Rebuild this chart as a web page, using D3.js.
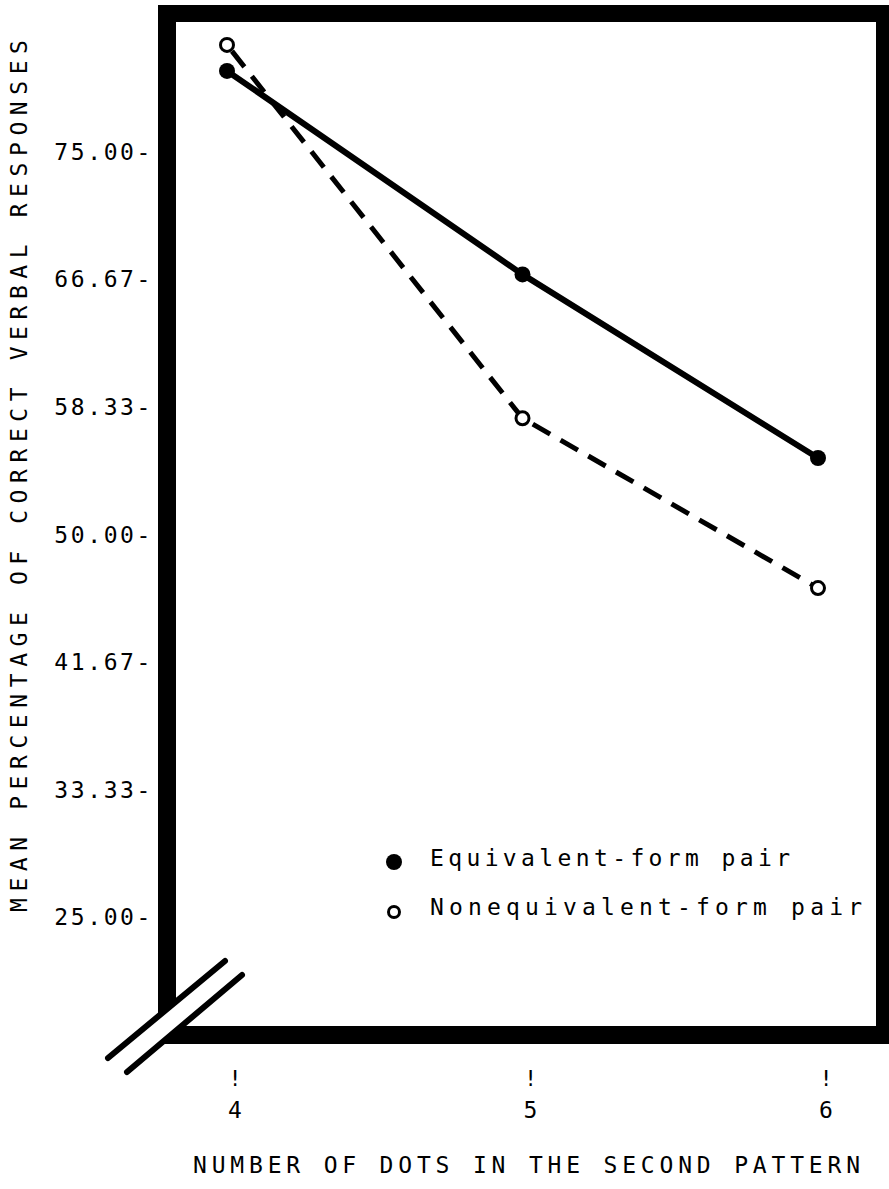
<!DOCTYPE html>
<html>
<head>
<meta charset="utf-8">
<script src="https://cdn.jsdelivr.net/npm/d3@7"></script>
<style>
  html, body { margin: 0; padding: 0; background: #fff; }
  svg { display: block; }
  text { font-family: "DejaVu Sans Mono", "Liberation Mono", monospace; fill: #000; }
</style>
</head>
<body>
<script>
// ---- Data ----
const xCategories = [4, 5, 6];
const equivalentValues = [80.3, 67.0, 55.0];
const nonequivalentValues = [82.0, 57.6, 46.5];
const yTickValues = [25.00, 33.33, 41.67, 50.00, 58.33, 66.67, 75.00];
const yTickLabels = ["25.00-", "33.33-", "41.67-", "50.00-", "58.33-", "66.67-", "75.00-"];
const xTickLabels = ["4", "5", "6"];
const seriesNames = ["Equivalent-form pair", "Nonequivalent-form pair"];
const yTitle = "MEAN PERCENTAGE OF CORRECT VERBAL RESPONSES";
const xTitle = "NUMBER OF DOTS IN THE SECOND PATTERN";

const W = 889, H = 1189;
const svg = d3.select("body").append("svg").attr("width", W).attr("height", H);
svg.append("rect").attr("width", W).attr("height", H).attr("fill", "#fff");

const x = d3.scaleLinear().domain([4, 6]).range([227, 818]);
const y = d3.scaleLinear().domain([25, 75]).range([917, 152]);

// ---- Frame (with axis break at lower-left) ----
const frame = svg.append("g").attr("fill", "#000");
frame.append("rect").attr("x", 158).attr("y", 5).attr("width", 731).attr("height", 17);
frame.append("rect").attr("x", 876).attr("y", 5).attr("width", 13).attr("height", 1039);
// left border, cut along the first break line
frame.append("polygon").attr("points", "158,5 176,5 176,1002 158,1016.5");
// bottom border, starting at the second break line
frame.append("polygon").attr("points", "181.5,1026 889,1026 889,1044 160,1044");
frame.append("line").attr("x1", 108).attr("y1", 1058).attr("x2", 225).attr("y2", 961)
  .attr("stroke", "#000").attr("stroke-width", 6).attr("stroke-linecap", "round");
frame.append("line").attr("x1", 127).attr("y1", 1072).attr("x2", 242).attr("y2", 975)
  .attr("stroke", "#000").attr("stroke-width", 6).attr("stroke-linecap", "round");

// ---- Y axis tick labels ----
svg.append("g").selectAll("text").data(yTickValues).join("text")
  .attr("x", 153).attr("y", d => y(d) + 8)
  .attr("text-anchor", "end")
  .attr("font-size", 23)
  .style("letter-spacing", "2.6px")
  .text((d, i) => yTickLabels[i]);

// ---- X axis ticks ----
const xt = svg.append("g");
xt.selectAll("text.mark").data(xCategories).join("text").attr("class", "mark")
  .attr("x", d => x(d) + 8).attr("y", 1086)
  .attr("text-anchor", "middle").attr("font-size", 22).text("!");
xt.selectAll("text.lab").data(xCategories).join("text").attr("class", "lab")
  .attr("x", d => x(d) + 8).attr("y", 1118)
  .attr("text-anchor", "middle").attr("font-size", 23)
  .text((d, i) => xTickLabels[i]);

// ---- Titles ----
svg.append("text").attr("x", 193).attr("y", 1173)
  .attr("font-size", 23).attr("textLength", 667).attr("lengthAdjust", "spacing")
  .text(xTitle);
svg.append("text").attr("transform", "translate(27,912) rotate(-90)")
  .attr("font-size", 23).attr("textLength", 872).attr("lengthAdjust", "spacing")
  .text(yTitle);

// ---- Lines ----
const line = d3.line().x((d, i) => x(xCategories[i])).y(d => y(d));
svg.append("path").datum(nonequivalentValues).attr("d", line)
  .attr("fill", "none").attr("stroke", "#000").attr("stroke-width", 5)
  .attr("stroke-dasharray", "20,12").attr("stroke-dashoffset", -8);
svg.append("path").datum(equivalentValues).attr("d", line)
  .attr("fill", "none").attr("stroke", "#000").attr("stroke-width", 6);

// ---- Markers ----
svg.append("g").selectAll("circle").data(equivalentValues).join("circle")
  .attr("cx", (d, i) => x(xCategories[i])).attr("cy", d => y(d))
  .attr("r", 8).attr("fill", "#000");
svg.append("g").selectAll("circle").data(nonequivalentValues).join("circle")
  .attr("cx", (d, i) => x(xCategories[i])).attr("cy", d => y(d))
  .attr("r", 6.5).attr("fill", "#fff").attr("stroke", "#000").attr("stroke-width", 3);

// ---- Legend ----
const lg = svg.append("g");
lg.append("circle").attr("cx", 394).attr("cy", 862).attr("r", 8).attr("fill", "#000");
lg.append("circle").attr("cx", 394).attr("cy", 912).attr("r", 5.5)
  .attr("fill", "#fff").attr("stroke", "#000").attr("stroke-width", 3);
lg.append("text").attr("x", 430).attr("y", 866).attr("font-size", 23)
  .attr("textLength", 360).attr("lengthAdjust", "spacing").text(seriesNames[0]);
lg.append("text").attr("x", 430).attr("y", 915).attr("font-size", 23)
  .attr("textLength", 432).attr("lengthAdjust", "spacing").text(seriesNames[1]);
</script>
</body>
</html>
